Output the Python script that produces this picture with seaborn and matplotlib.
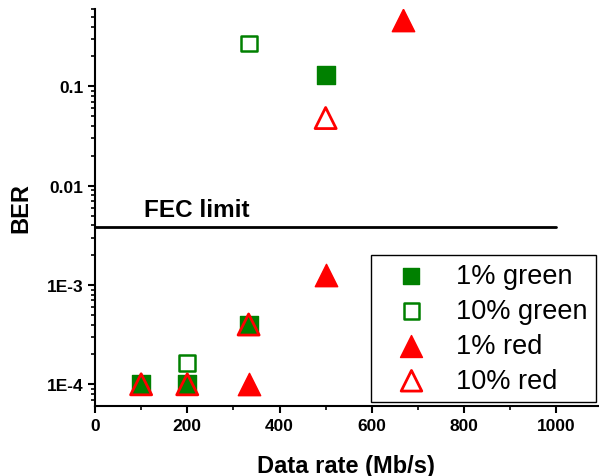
import numpy as np
import matplotlib
matplotlib.use('Agg')
import matplotlib.pyplot as plt
import matplotlib.ticker as mticker
import seaborn as sns

# Data
rate_green1 = [100, 200, 333, 500]
ber_green1 = [1.0e-4, 1.0e-4, 4.0e-4, 0.13]

rate_green10 = [100, 200, 333, 333]
ber_green10 = [1.0e-4, 1.63e-4, 4.0e-4, 0.27]

rate_red1 = [333, 500, 667]
ber_red1 = [1.0e-4, 1.25e-3, 0.47]

rate_red10 = [100, 200, 333, 500]
ber_red10 = [1.0e-4, 1.0e-4, 4.0e-4, 0.048]

fec_limit = 3.8e-3
fec_range = [0, 1000]

y_ticks = [1e-4, 1e-3, 1e-2, 1e-1]
y_tick_labels = ['1E-4', '1E-3', '0.01', '0.1']

sns.set_style('ticks')
plt.rcParams['font.family'] = ['Liberation Sans', 'DejaVu Sans']
plt.rcParams['text.color'] = 'black'
plt.rcParams['axes.labelcolor'] = 'black'
plt.rcParams['xtick.color'] = 'black'
plt.rcParams['ytick.color'] = 'black'

fig = plt.figure(figsize=(5.99, 4.77), dpi=100)
ax = fig.add_axes([0.1586, 0.1468, 0.8394, 0.832])

sns.scatterplot(x=rate_green1, y=ber_green1, marker='s', s=150, color='green',
                edgecolor='green', linewidth=1, label='1% green', ax=ax, zorder=3)
sns.scatterplot(x=rate_green10, y=ber_green10, marker='s', s=130, facecolor='none',
                edgecolor='green', linewidth=1.8, label='10% green', ax=ax, zorder=3)
sns.scatterplot(x=rate_red1, y=ber_red1, marker='^', s=260, color='red',
                edgecolor='red', linewidth=1, label='1% red', ax=ax, zorder=4)
sns.scatterplot(x=rate_red10, y=ber_red10, marker='^', s=230, facecolor='none',
                edgecolor='red', linewidth=2, label='10% red', ax=ax, zorder=4)

# FEC limit line
ax.plot(fec_range, [fec_limit, fec_limit], color='black', lw=2, zorder=2)
ax.text(220, fec_limit * 1.15, 'FEC limit', ha='center', va='bottom',
        fontsize=17.5, fontweight='bold')

ax.set_yscale('log')
ax.set_xlim(0, 1090)
ax.set_ylim(6.05e-5, 0.6)
ax.set_yticks(y_ticks)
ax.set_yticklabels(y_tick_labels)
ax.yaxis.set_minor_locator(mticker.LogLocator(base=10, subs=np.arange(2, 10)))
ax.yaxis.set_minor_formatter(mticker.NullFormatter())
ax.set_xticks(np.arange(0, 1001, 200))
ax.xaxis.set_minor_locator(mticker.MultipleLocator(100))

sns.despine(ax=ax)
for s in ['left', 'bottom']:
    ax.spines[s].set_linewidth(1.5)
    ax.spines[s].set_color('black')
ax.tick_params(which='major', length=5, width=1.5, color='black')
ax.tick_params(which='minor', length=3, width=1.2, color='black')
for lab in ax.get_xticklabels() + ax.get_yticklabels():
    lab.set_fontsize(12.5)
    lab.set_fontweight('bold')

ax.set_xlabel('Data rate (Mb/s)', fontsize=17, fontweight='bold', labelpad=15)
ax.set_ylabel('BER', fontsize=17, fontweight='bold', labelpad=10)

leg = ax.legend(loc='lower right', bbox_to_anchor=(0.996, 0.01), borderaxespad=0,
                fontsize=19.5, frameon=True, fancybox=False, framealpha=1,
                edgecolor='black', labelspacing=0.33, handletextpad=0.45,
                handlelength=2.4, borderpad=0.3, markerscale=1.0)
leg.get_frame().set_linewidth(1)
for h, sz in zip(leg.legend_handles, [140, 120, 250, 220]):
    h.set_sizes([sz])

fig.savefig('out.png', dpi=100)
